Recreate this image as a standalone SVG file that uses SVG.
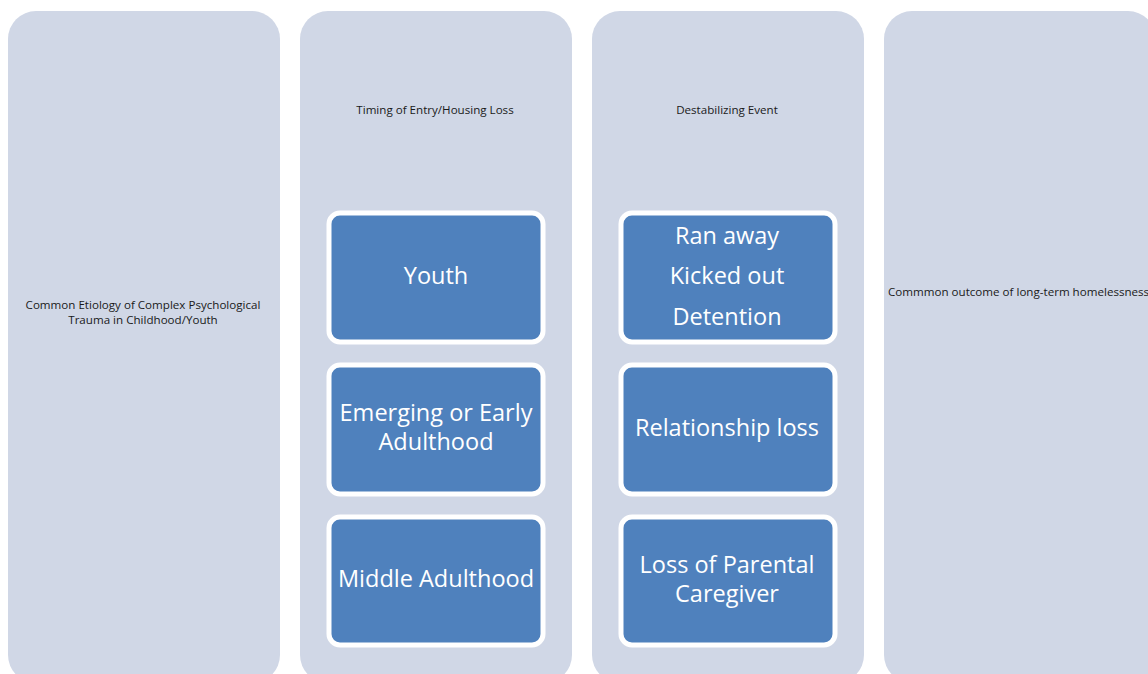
<svg xmlns="http://www.w3.org/2000/svg" width="1148" height="674" viewBox="0 0 1148 674">
  <style>
    .panel { fill: #D0D7E6; }
    .box { fill: #4F81BD; stroke: #FFFFFF; stroke-width: 5; }
    .small { font-family: "Open Sans", "Liberation Sans", sans-serif; font-size: 11.6px; fill: #1a1a1a; }
    .big { font-family: "Open Sans", "Liberation Sans", sans-serif; font-size: 23.5px; fill: #FFFFFF; text-anchor: middle; }
  </style>
  <rect width="1148" height="674" fill="#FFFFFF"/>

  <g id="col-etiology">
    <rect class="panel" x="8" y="11" width="272" height="672" rx="28"/>
    <text class="small" x="143" y="309" text-anchor="middle">Common Etiology of Complex Psychological</text>
    <text class="small" x="143" y="324" text-anchor="middle">Trauma in Childhood/Youth</text>
  </g>

  <g id="col-timing">
    <rect class="panel" x="300" y="11" width="272" height="672" rx="28"/>
    <text class="small" x="435" y="114" text-anchor="middle">Timing of Entry/Housing Loss</text>
  </g>
  <g id="node-youth">
    <rect class="box" x="329" y="213" width="214" height="129" rx="11"/>
    <text class="big" x="436" y="284">Youth</text>
  </g>
  <g id="node-emerging">
    <rect class="box" x="329" y="365" width="214" height="129" rx="11"/>
    <text class="big" x="436" y="421">Emerging or Early</text>
    <text class="big" x="436" y="450">Adulthood</text>
  </g>
  <g id="node-middle">
    <rect class="box" x="329" y="517" width="214" height="128" rx="11"/>
    <text class="big" x="436" y="587">Middle Adulthood</text>
  </g>

  <g id="col-event">
    <rect class="panel" x="592" y="11" width="272" height="672" rx="28"/>
    <text class="small" x="727" y="114" text-anchor="middle">Destabilizing Event</text>
  </g>
  <g id="node-ranaway">
    <rect class="box" x="621" y="213" width="214" height="129" rx="11"/>
    <text class="big" x="727" y="244">Ran away</text>
    <text class="big" x="727" y="284">Kicked out</text>
    <text class="big" x="727" y="325">Detention</text>
  </g>
  <g id="node-relationship">
    <rect class="box" x="621" y="365" width="214" height="129" rx="11"/>
    <text class="big" x="727" y="436">Relationship loss</text>
  </g>
  <g id="node-parental">
    <rect class="box" x="621" y="517" width="214" height="128" rx="11"/>
    <text class="big" x="727" y="573">Loss of Parental</text>
    <text class="big" x="727" y="602">Caregiver</text>
  </g>

  <g id="col-outcome">
    <rect class="panel" x="884" y="11" width="272" height="672" rx="28"/>
    <text class="small" x="888" y="296">Commmon outcome of long-term homelessness</text>
  </g>

  <g id="connectors"/>
</svg>
